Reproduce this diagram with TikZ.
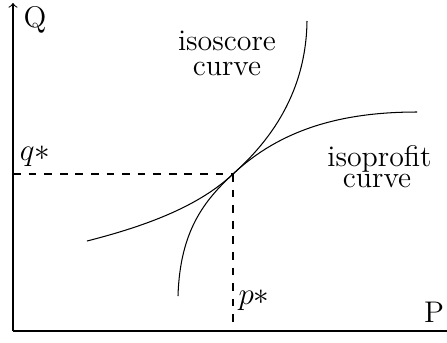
\documentclass[tikz,border=0pt]{standalone}
\begin{document}
\begin{tikzpicture}[x=0.385pt,y=-0.385pt,
  axis/.style={line width=0.4pt},
  curvestyle/.style={line width=0.4pt},
  guide/.style={dashed,line width=0.4pt},
  lbl/.style={inner sep=0pt,font=\fontsize{11.5pt}{13pt}\selectfont}]
\useasboundingbox (0,0) rectangle (447,342);
\coordinate (O) at (13,331);
\coordinate (Ytop) at (13,3);
\coordinate (Xend) at (447,331);
\coordinate (E) at (233,174);
\coordinate (Ey) at (13,174);
\coordinate (Ex) at (233,331);
\draw[axis,->] (O) -- (Ytop);
\draw[axis] (O) -- (Xend);
\draw[guide] (Ey) -- (E);
\draw[guide] (E) -- (Ex);
\draw[curvestyle] (178,296) .. controls (180,230) and (205,200) .. (E)
  .. controls (262,148) and (306,100) .. (307,21);
\draw[curvestyle] (87,241) .. controls (150,225) and (200,205) .. (E)
  .. controls (280,130) and (340,112) .. (417,112);
\node[lbl,anchor=base] (Q) at (35,27) {Q};
\node[lbl,anchor=base] (P) at (434,322) {P};
\node[lbl,anchor=base] (q) at (35,160) {$q*$};
\node[lbl,anchor=base] (p) at (254,304) {$p*$};
\node[lbl,anchor=base] (iso1) at (227,50) {isoscore};
\node[lbl,anchor=base] (iso2) at (227,75) {curve};
\node[lbl,anchor=base] (ip1) at (379.5,166) {isoprofit};
\node[lbl,anchor=base] (ip2) at (377,187) {curve};
\end{tikzpicture}
\end{document}
